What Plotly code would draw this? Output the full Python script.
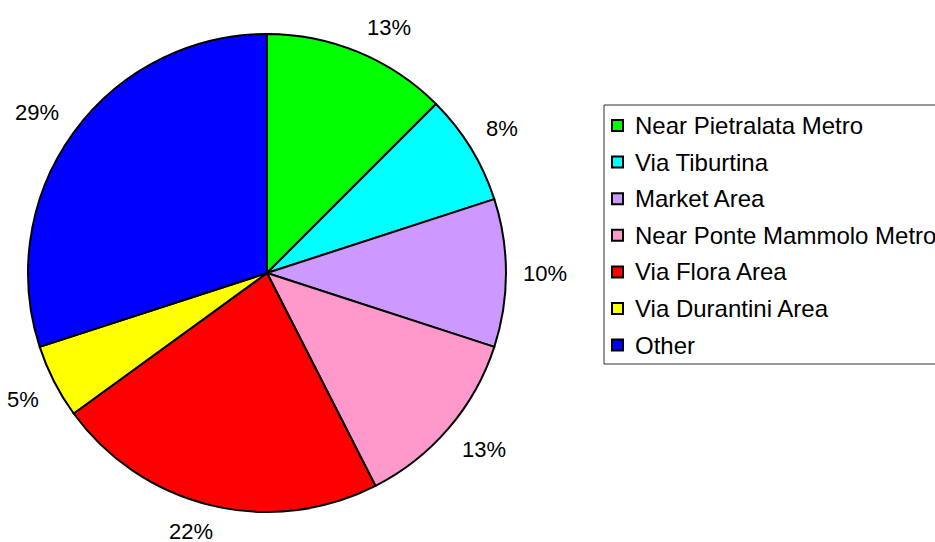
import math
import plotly.graph_objects as go

# ---- data ----
categories = ["Near Pietralata Metro", "Via Tiburtina", "Market Area",
              "Near Ponte Mammolo Metro", "Via Flora Area", "Via Durantini Area", "Other"]
shares = [12.5, 7.5, 10.0, 12.5, 22.5, 5.0, 30.0]          # slice sizes
pct_labels = ["13%", "8%", "10%", "13%", "22%", "5%", "29%"]  # labels as printed
colors = ["#00FF00", "#00FFFF", "#CC99FF", "#FF99CC", "#FF0000", "#FFFF00", "#0000FF"]

# ---- layout constants (pixels) ----
W, H = 935, 542
CX, CY, R = 267, 273, 239
LABEL_GAP = 14
FONT = "Liberation Sans, Arial, sans-serif"
FS_LABEL = 22
FS_LEG = 24

def px(x):
    return x / W

def py(y):
    return 1 - y / H

fig = go.Figure()
fig.add_trace(go.Pie(
    labels=categories, values=shares,
    marker=dict(colors=colors, line=dict(color="black", width=2)),
    sort=False, direction="clockwise", rotation=0,
    textinfo="none", hoverinfo="label+percent", showlegend=False,
    domain=dict(x=[px(CX - R), px(CX + R)], y=[py(CY + R), py(CY - R)]),
))

def text_width(s, size):
    w = 0
    for ch in s:
        w += 0.889 if ch == "%" else 0.556
    return w * size

def clamp(v):
    return max(-1.0, min(1.0, v))

annotations = []
total = sum(shares)
cum = 0
for v, lab in zip(shares, pct_labels):
    mid = (cum + v / 2) / total * 2 * math.pi
    cum += v
    s, c = math.sin(mid), math.cos(mid)
    half_w = text_width(lab, FS_LABEL) / 2 + 3
    half_h = 12
    r = R + LABEL_GAP
    lx = CX + r * s + half_w * clamp(s / 0.35)
    ly = CY - r * c - half_h * clamp(c / 0.35)
    annotations.append(dict(
        x=px(lx), y=py(ly), xref="paper", yref="paper",
        text=lab, showarrow=False,
        xanchor="center", yanchor="middle",
        font=dict(family=FONT, size=FS_LABEL, color="black"),
    ))

# manual legend (box runs off the right edge as in the reference)
shapes = [dict(type="rect", xref="paper", yref="paper",
               x0=px(604), x1=px(990), y0=py(364), y1=py(105),
               line=dict(color="#333333", width=1), fillcolor="white", layer="below")]
LEG_Y0, LEG_DY = 125.5, 36.6
for i, (name, c) in enumerate(zip(categories, colors)):
    yc = LEG_Y0 + i * LEG_DY
    shapes.append(dict(type="rect", xref="paper", yref="paper",
                       x0=px(612), x1=px(623), y0=py(yc + 5.5), y1=py(yc - 5.5),
                       line=dict(color="black", width=2), fillcolor=c))
    annotations.append(dict(
        x=px(633), y=py(yc), xref="paper", yref="paper", text=name,
        showarrow=False, xanchor="left", yanchor="middle",
        font=dict(family=FONT, size=FS_LEG, color="black"),
    ))

fig.update_layout(
    width=W, height=H, margin=dict(l=0, r=0, t=0, b=0),
    paper_bgcolor="white", plot_bgcolor="white",
    annotations=annotations, shapes=shapes, showlegend=False,
)

fig.write_html("out.html", config={"displayModeBar": False},
               post_script="document.body.style.margin='0';")
